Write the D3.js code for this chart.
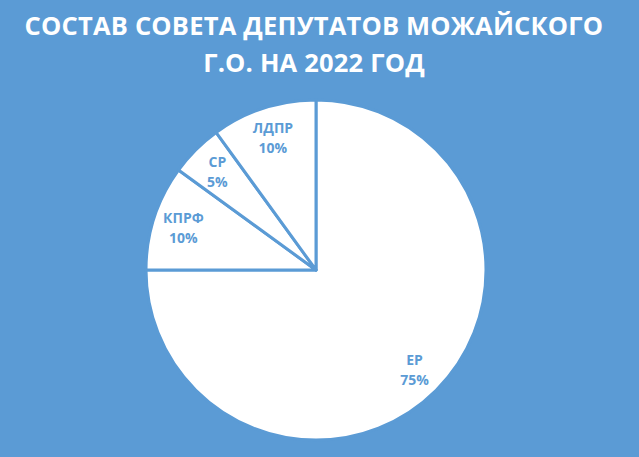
<!DOCTYPE html>
<html>
<head>
<meta charset="utf-8">
<script src="https://cdn.jsdelivr.net/npm/d3@7"></script>
<style>
  html, body { margin: 0; padding: 0; background: #5b9bd5; }
  svg { display: block; }
</style>
</head>
<body>
<div id="chart"></div>
<script>
// data
const parties = ["ЕР", "КПРФ", "СР", "ЛДПР"];
const shares = [75, 10, 5, 10];
const titleLines = ["СОСТАВ СОВЕТА ДЕПУТАТОВ МОЖАЙСКОГО", "Г.О. НА 2022 ГОД"];

const width = 639, height = 457;
const bg = "#5b9bd5";
const cx = 316, cy = 270, radius = 170;

const svg = d3.select("#chart").append("svg")
  .attr("width", width)
  .attr("height", height);

svg.append("rect").attr("width", width).attr("height", height).attr("fill", bg);

// title
svg.append("g")
  .selectAll("text")
  .data(titleLines)
  .enter()
  .append("text")
  .attr("x", 314)
  .attr("y", (d, i) => 35 + i * 37)
  .attr("text-anchor", "middle")
  .attr("fill", "#fff")
  .style("font-family", "'Open Sans', 'Noto Sans', sans-serif")
  .style("font-weight", "bold")
  .style("font-size", "25.5px")
  .style("letter-spacing", "0.2px")
  .text(d => d);

const dataset = parties.map((p, i) => ({ name: p, value: shares[i] }));

const pie = d3.pie().value(d => d.value).sort(null);
const arc = d3.arc().innerRadius(0).outerRadius(radius);
const labelArc = d3.arc().innerRadius(radius * 0.82).outerRadius(radius * 0.82);

const g = svg.append("g").attr("transform", "translate(" + cx + "," + cy + ")");

const arcs = pie(dataset);

g.selectAll("path")
  .data(arcs)
  .enter()
  .append("path")
  .attr("d", arc)
  .attr("fill", "#fff")
  .attr("stroke", bg)
  .attr("stroke-width", 3)
  .attr("stroke-linejoin", "round");

const total = d3.sum(shares);
const labels = g.selectAll(".lbl")
  .data(arcs)
  .enter()
  .append("text")
  .attr("class", "lbl")
  .attr("transform", d => "translate(" + labelArc.centroid(d) + ")")
  .attr("text-anchor", "middle")
  .attr("fill", bg)
  .style("font-family", "'Open Sans', 'Noto Sans', sans-serif")
  .style("font-weight", "bold")
  .style("font-size", "14px");

labels.append("tspan").attr("x", 0).attr("y", -4).text(d => d.data.name);
labels.append("tspan").attr("x", 0).attr("y", 16)
  .text(d => Math.round(d.data.value / total * 100) + "%");
</script>
</body>
</html>
